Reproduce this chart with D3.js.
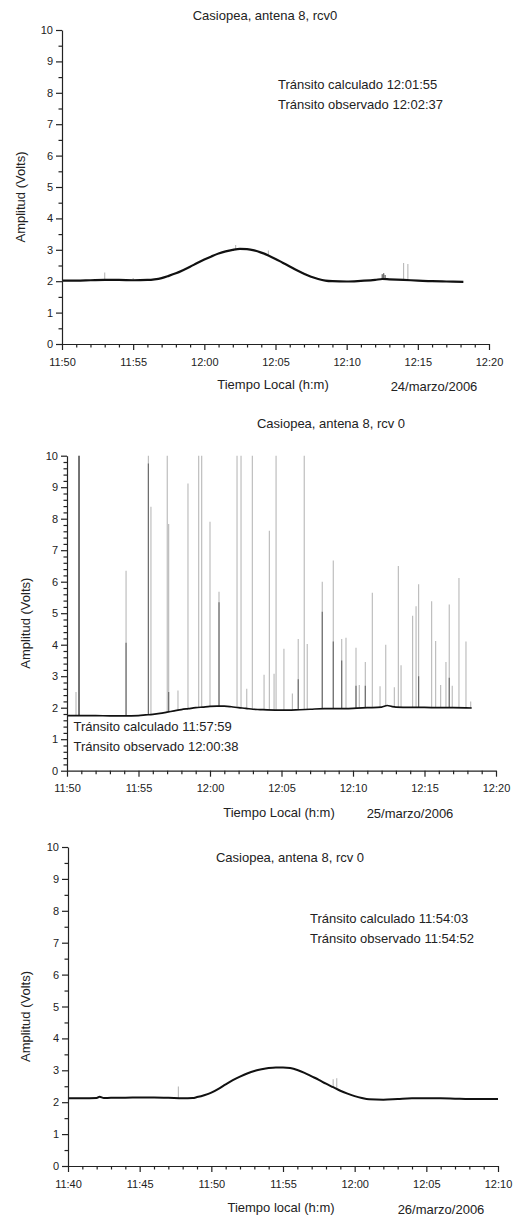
<!DOCTYPE html>
<html>
<head>
<meta charset="utf-8">
<script src="https://cdn.jsdelivr.net/npm/d3@7/dist/d3.min.js"></script>
<style>
  html, body { margin: 0; padding: 0; background: #fff; }
  svg { display: block; }
  text { font-family: "Liberation Sans", Arial, Helvetica, sans-serif; fill: #222; }
</style>
</head>
<body>
<svg id="chart" width="514" height="1221"></svg>
<script>
// ---------- DATA (time = minutes after the first x tick) ----------
// Panel 1 : 24/marzo/2006
const p1Ticks = ["11:50", "11:55", "12:00", "12:05", "12:10", "12:15", "12:20"];
const p1Time = [0, 1, 2, 3, 4, 5, 6, 6.5, 7, 7.5, 8, 8.5, 9, 9.5, 10, 10.5, 11, 11.5, 12, 12.5, 13, 13.5, 14, 14.5, 15, 15.5, 16, 16.5, 17, 17.5, 18, 18.5, 19, 20, 21, 22, 22.5, 23, 24, 25, 26, 27, 28.2];
const p1Amp  = [2.02, 2.02, 2.03, 2.04, 2.04, 2.03, 2.04, 2.06, 2.10, 2.17, 2.25, 2.35, 2.46, 2.58, 2.69, 2.79, 2.88, 2.95, 3.00, 3.03, 3.02, 2.98, 2.91, 2.82, 2.71, 2.59, 2.47, 2.35, 2.24, 2.14, 2.07, 2.02, 2.00, 1.99, 2.01, 2.04, 2.07, 2.06, 2.04, 2.02, 2.00, 1.99, 1.98];
const p1SpikeTime = [3.0, 5.0, 12.2, 14.5, 22.5, 22.6, 22.7, 24.0, 24.3];
const p1SpikeTop  = [2.28, 2.10, 3.15, 2.98, 2.22, 2.25, 2.20, 2.58, 2.55];
const p1SpikeDark = [0, 0, 0, 0, 2.22, 2.25, 2.20, 0, 0];

// Panel 2 : 25/marzo/2006
const p2Ticks = ["11:50", "11:55", "12:00", "12:05", "12:10", "12:15", "12:20"];
const p2Time = [0, 1, 2, 3, 4, 5, 5.5, 6, 6.5, 7, 7.5, 8, 8.5, 9, 9.5, 10, 10.5, 11, 11.5, 12, 12.5, 13, 13.5, 14, 15, 16, 17, 18, 19, 20, 21, 22, 22.4, 22.7, 23, 24, 25, 26, 27, 28.3];
const p2Amp  = [1.75, 1.75, 1.75, 1.74, 1.74, 1.75, 1.77, 1.79, 1.82, 1.86, 1.90, 1.94, 1.97, 2.00, 2.02, 2.04, 2.05, 2.05, 2.03, 2.00, 1.98, 1.95, 1.94, 1.93, 1.92, 1.93, 1.95, 1.97, 1.97, 1.98, 2.00, 2.02, 2.07, 2.04, 2.02, 2.01, 2.01, 2.00, 2.00, 1.99];
const p2SpikeTime = [0.63, 0.84, 4.13, 5.69, 5.87, 7.01, 7.11, 7.76, 8.46, 9.21, 9.42, 10.0, 10.63, 11.89, 12.17, 12.57, 12.96, 13.78, 14.15, 14.48, 14.62, 15.17, 15.76, 16.17, 16.59, 16.8, 17.85, 18.62, 19.21, 19.51, 20.21, 20.44, 20.86, 21.35, 21.89, 22.29, 22.89, 23.17, 23.36, 24.17, 24.41, 24.59, 25.5, 25.78, 26.13, 26.5, 26.73, 26.94, 27.41, 27.9, 28.23];
const p2SpikeTop  = [2.5, 10, 6.35, 10, 8.38, 10, 7.83, 2.55, 9.12, 10, 10, 7.9, 5.68, 10, 10, 2.6, 10, 3.05, 7.62, 3.08, 10, 3.87, 2.45, 4.18, 10, 4.02, 6.0, 6.67, 4.18, 4.22, 3.9, 2.72, 3.45, 5.65, 2.68, 4.0, 2.65, 6.5, 3.35, 4.92, 5.22, 5.92, 5.38, 4.12, 2.72, 3.45, 5.28, 2.7, 6.12, 4.1, 2.2];
const p2SpikeDark = [0, 10, 4.06, 9.75, 0, 0, 2.5, 0, 0, 0, 0, 0, 5.35, 0, 0, 0, 0, 0, 0, 0, 0, 0, 0, 2.9, 0, 0, 5.05, 4.1, 3.5, 0, 2.7, 0, 2.7, 0, 0, 0, 0, 0, 0, 0, 0, 3.0, 0, 0, 0, 0, 2.95, 0, 0, 0, 0];

// Panel 3 : 26/marzo/2006
const p3Ticks = ["11:40", "11:45", "11:50", "11:55", "12:00", "12:05", "12:10"];
const p3Time = [0, 1, 2, 2.2, 2.5, 3, 4, 5, 6, 7, 8, 8.7, 9, 9.5, 10, 10.5, 11, 11.5, 12, 12.5, 13, 13.5, 14, 14.5, 15, 15.5, 16, 16.5, 17, 17.5, 18, 18.5, 19, 19.5, 20, 20.5, 21, 22, 23, 24, 25, 26, 27, 28, 29, 30];
const p3Amp  = [2.12, 2.12, 2.13, 2.17, 2.13, 2.14, 2.14, 2.15, 2.15, 2.14, 2.12, 2.13, 2.16, 2.22, 2.30, 2.42, 2.56, 2.69, 2.80, 2.90, 2.98, 3.03, 3.07, 3.09, 3.09, 3.07, 3.01, 2.92, 2.81, 2.70, 2.58, 2.47, 2.36, 2.27, 2.19, 2.13, 2.09, 2.08, 2.10, 2.12, 2.12, 2.12, 2.11, 2.10, 2.10, 2.10];
const p3SpikeTime = [7.7, 18.5, 18.75];
const p3SpikeTop  = [2.49, 2.72, 2.75];
const p3SpikeDark = [0, 0, 0];

// ---------- TEXT ----------
const titles = ["Casiopea, antena 8, rcv0", "Casiopea, antena 8, rcv 0", "Casiopea, antena 8, rcv 0"];
const notes = [
  ["Tránsito calculado 12:01:55", "Tránsito observado 12:02:37"],
  ["Tránsito calculado 11:57:59", "Tránsito observado 12:00:38"],
  ["Tránsito calculado 11:54:03", "Tránsito observado 11:54:52"]
];
const xTitles = ["Tiempo Local (h:m)", "Tiempo Local (h:m)", "Tiempo local (h:m)"];
const dates = ["24/marzo/2006", "25/marzo/2006", "26/marzo/2006"];
const yTitle = "Amplitud (Volts)";
const yTickValues = [0, 1, 2, 3, 4, 5, 6, 7, 8, 9, 10];

// ---------- LAYOUT ----------
const panels = [
  { x0: 62, x1: 489, yTop: 30, yBot: 344, minorY: 0.5,
    ticks: p1Ticks, time: p1Time, amp: p1Amp, sT: p1SpikeTime, sTop: p1SpikeTop, sDark: p1SpikeDark,
    titlePos: [265, 20], notePos: [278, 89, 108.5], xTitlePos: [273, 389], datePos: [434, 391], yTitleX: 25, lineW: 2.2 },
  { x0: 67, x1: 496, yTop: 455.7, yBot: 770.7, minorY: 0.2,
    ticks: p2Ticks, time: p2Time, amp: p2Amp, sT: p2SpikeTime, sTop: p2SpikeTop, sDark: p2SpikeDark,
    titlePos: [331, 428], notePos: [73.5, 731, 750.5], xTitlePos: [279, 817], datePos: [410, 818], yTitleX: 30, lineW: 1.7 },
  { x0: 68, x1: 498, yTop: 847, yBot: 1166, minorY: 0.5,
    ticks: p3Ticks, time: p3Time, amp: p3Amp, sT: p3SpikeTime, sTop: p3SpikeTop, sDark: p3SpikeDark,
    titlePos: [290, 861.5], notePos: [310, 922.5, 942.5], xTitlePos: [281, 1212], datePos: [441, 1214], yTitleX: 30, lineW: 2.0 }
];

const svg = d3.select("#chart");

panels.forEach((p, i) => {
  const x = d3.scaleLinear().domain([0, 30]).range([p.x0, p.x1]);
  const y = d3.scaleLinear().domain([0, 10]).range([p.yBot, p.yTop]);
  // piecewise-linear lookup of the signal level, used as the foot of each spike
  const level = d3.scaleLinear().domain(p.time).range(p.amp).clamp(true);
  const g = svg.append("g");

  // spikes (light grey with optional darker lower part)
  const spikes = p.sT.map((t, k) => ({ t, top: p.sTop[k], dark: p.sDark[k] }));
  g.append("g").selectAll("line").data(spikes).join("line")
    .attr("x1", d => x(d.t)).attr("x2", d => x(d.t))
    .attr("y1", d => y(level(d.t))).attr("y2", d => y(d.top))
    .attr("stroke", "#b8b8b8").attr("stroke-width", 1.1);
  g.append("g").selectAll("line").data(spikes.filter(d => d.dark > 0)).join("line")
    .attr("x1", d => x(d.t)).attr("x2", d => x(d.t))
    .attr("y1", d => y(level(d.t))).attr("y2", d => y(d.dark))
    .attr("stroke", d => d.dark >= 10 ? "#222" : "#666").attr("stroke-width", 1.1);

  // signal line
  const pts = p.time.map((t, k) => [t, p.amp[k]]);
  g.append("path").datum(pts)
    .attr("fill", "none").attr("stroke", "#111").attr("stroke-width", p.lineW)
    .attr("stroke-linejoin", "round")
    .attr("d", d3.line().x(d => x(d[0])).y(d => y(d[1])).curve(d3.curveMonotoneX));

  // x axis
  const majorX = d3.range(0, 31, 5);
  const minorX = d3.range(0, 31, 1).filter(v => v % 5 !== 0);
  g.append("g").attr("transform", `translate(0,${p.yBot})`)
    .call(d3.axisBottom(x).tickValues(majorX).tickSize(6).tickSizeOuter(0).tickPadding(8)
      .tickFormat((d, k) => p.ticks[k]));
  g.append("g").attr("transform", `translate(0,${p.yBot})`)
    .call(d3.axisBottom(x).tickValues(minorX).tickSize(3.5).tickFormat(""))
    .call(s => s.select(".domain").remove());

  // y axis
  const minorYv = d3.range(0, 10.0001, p.minorY).filter(v => Math.abs(v - Math.round(v)) > 1e-6);
  g.append("g").attr("transform", `translate(${p.x0},0)`)
    .call(d3.axisLeft(y).tickValues(yTickValues).tickSize(6).tickSizeOuter(0).tickPadding(3).tickFormat(d3.format("d")));
  g.append("g").attr("transform", `translate(${p.x0},0)`)
    .call(d3.axisLeft(y).tickValues(minorYv).tickSize(3.5).tickFormat(""))
    .call(s => s.select(".domain").remove());

  svg.selectAll(".tick text").attr("font-size", 11).attr("fill", "#333")
    .attr("font-family", "'Liberation Sans', Arial, sans-serif");
  svg.selectAll(".domain, .tick line").attr("stroke", "#222").attr("stroke-width", 1.2);

  // titles and labels
  g.append("text").attr("x", p.titlePos[0]).attr("y", p.titlePos[1])
    .attr("text-anchor", "middle").attr("font-size", 13).text(titles[i]);
  notes[i].forEach((s, k) => {
    g.append("text").attr("x", p.notePos[0]).attr("y", p.notePos[1 + k])
      .attr("font-size", 13).text(s);
  });
  g.append("text").attr("x", p.xTitlePos[0]).attr("y", p.xTitlePos[1])
    .attr("text-anchor", "middle").attr("font-size", 13).text(xTitles[i]);
  g.append("text").attr("x", p.datePos[0]).attr("y", p.datePos[1])
    .attr("text-anchor", "middle").attr("font-size", 13).text(dates[i]);
  g.append("text")
    .attr("transform", `translate(${p.yTitleX},${(p.yTop + p.yBot) / 2 + 10}) rotate(-90)`)
    .attr("text-anchor", "middle").attr("font-size", 13).text(yTitle);
});
</script>
</body>
</html>
